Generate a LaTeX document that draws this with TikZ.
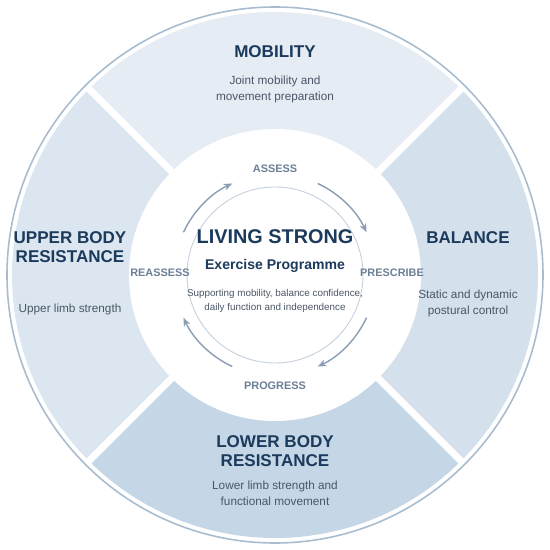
\documentclass[tikz,border=0pt]{standalone}
\usepackage{fontspec}
\setmainfont{Liberation Sans}
\usetikzlibrary{arrows.meta}
\definecolor{mobilityfill}{HTML}{E5ECF4}
\definecolor{upperfill}{HTML}{DCE6F0}
\definecolor{balancefill}{HTML}{D4E0EC}
\definecolor{lowerfill}{HTML}{C5D6E6}
\definecolor{ringline}{HTML}{A8BCD0}
\definecolor{innerline}{HTML}{C3D0DD}
\definecolor{cyclearrow}{HTML}{8A9DB3}
\definecolor{cyclelabel}{HTML}{6B7F95}
\definecolor{navytext}{HTML}{1B3A5C}
\definecolor{graytext}{HTML}{4B5766}

\begin{document}
\begin{tikzpicture}[x=0.02cm, y=0.02cm,
    sectortitle/.style={font=\bfseries\fontsize{9.7}{10.8}\selectfont, text=navytext, align=center, inner sep=0pt},
    sectortext/.style={font=\fontsize{6.7}{9.1}\selectfont, text=graytext, align=center, inner sep=0pt},
    cyclename/.style={font=\bfseries\fontsize{6.2}{7}\selectfont, text=cyclelabel, inner sep=0pt},
    cyclestep/.style={cyclearrow, line width=0.8pt, -{Stealth[length=5pt, width=4pt]}}]
    \useasboundingbox (-275,-275) rectangle (275,275);

    % Outer ring
    \draw[ringline, line width=0.9pt] (0,0) circle[radius=268];

    % Sectors
    \fill[mobilityfill] (0,0) -- (45:263) arc[start angle=45, end angle=135, radius=263] -- cycle;
    \fill[upperfill] (0,0) -- (135:263) arc[start angle=135, end angle=225, radius=263] -- cycle;
    \fill[lowerfill] (0,0) -- (225:263) arc[start angle=225, end angle=315, radius=263] -- cycle;
    \fill[balancefill] (0,0) -- (-45:263) arc[start angle=-45, end angle=45, radius=263] -- cycle;

    % Gaps between sectors
    \foreach \a in {45,135,225,315}
        \draw[white, line width=4pt] (0,0) -- (\a:266);

    % Centre disc
    \fill[white] (0,0) circle[radius=146];
    \draw[innerline, line width=0.5pt] (0,0) circle[radius=88];

    % Cycle arrows
    \draw[cyclestep] (155:101) arc[start angle=155, end angle=115, radius=101];
    \draw[cyclestep] (65:101) arc[start angle=65, end angle=25, radius=101];
    \draw[cyclestep] (-25:101) arc[start angle=-25, end angle=-65, radius=101];
    \draw[cyclestep] (-115:101) arc[start angle=-115, end angle=-155, radius=101];

    % Cycle labels
    \node[cyclename] (assess) at (0,106) {ASSESS};
    \node[cyclename] (prescribe) at (117,2) {PRESCRIBE};
    \node[cyclename] (progress) at (0,-111) {PROGRESS};
    \node[cyclename] (reassess) at (-115,2) {REASSESS};

    % Centre text
    \node[font=\bfseries\fontsize{11.3}{13}\selectfont, text=navytext, inner sep=0pt] (living) at (0,38) {LIVING STRONG};
    \node[font=\bfseries\fontsize{8}{10}\selectfont, text=navytext, inner sep=0pt] (programme) at (0,9) {Exercise Programme};
    \node[font=\fontsize{5.6}{7.9}\selectfont, text=graytext, align=center, inner sep=0pt] (supporting) at (0,-26) {Supporting mobility, balance confidence,\\daily function and independence};

    % Sector labels
    \node[sectortitle] (mobility) at (0,223) {MOBILITY};
    \node[sectortext] (mobilitytext) at (0,186) {Joint mobility and\\movement preparation};
    \node[sectortitle] (upper) at (-205,28) {UPPER BODY\\RESISTANCE};
    \node[sectortext] (uppertext) at (-205,-34) {Upper limb strength};
    \node[sectortitle] (balance) at (193,37) {BALANCE};
    \node[sectortext] (balancetext) at (193,-28) {Static and dynamic\\postural control};
    \node[sectortitle] (lower) at (0,-176) {LOWER BODY\\RESISTANCE};
    \node[sectortext] (lowertext) at (0,-218) {Lower limb strength and\\functional movement};
\end{tikzpicture}
\end{document}
